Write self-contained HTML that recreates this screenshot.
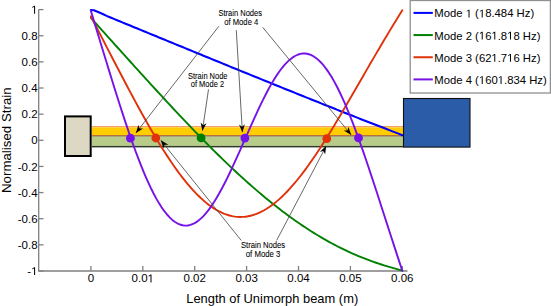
<!DOCTYPE html><html><head><meta charset="utf-8"><style>html,body{margin:0;padding:0;background:#fff;width:551px;height:306px;overflow:hidden}svg{display:block}text{font-family:"Liberation Sans",sans-serif;fill:#000}</style></head><body>
<svg width="551" height="306" viewBox="0 0 551 306">
<defs><marker id="ah" viewBox="0 0 10 10" refX="10" refY="5" markerWidth="8" markerHeight="8" markerUnits="userSpaceOnUse" orient="auto"><path d="M0,1.3 L10,5 L0,8.7 L3,5 Z" fill="#000"/></marker></defs>
<g stroke="#808080" stroke-width="1.3" fill="none">
<path d="M38.7,9.6 V271 H407.5"/>
<path d="M38.7,9.60 H43.5"/>
<path d="M38.7,35.74 H43.5"/>
<path d="M38.7,61.88 H43.5"/>
<path d="M38.7,88.02 H43.5"/>
<path d="M38.7,114.16 H43.5"/>
<path d="M38.7,140.30 H43.5"/>
<path d="M38.7,166.44 H43.5"/>
<path d="M38.7,192.58 H43.5"/>
<path d="M38.7,218.72 H43.5"/>
<path d="M38.7,244.86 H43.5"/>
<path d="M38.7,271.00 H43.5"/>
<path d="M90.90,271 V266"/>
<path d="M142.80,271 V266"/>
<path d="M194.70,271 V266"/>
<path d="M246.60,271 V266"/>
<path d="M298.50,271 V266"/>
<path d="M350.40,271 V266"/>
<path d="M402.30,271 V266"/>
</g>
<g font-size="11.5" text-anchor="end">
<text class="d1" x="37.6" y="13.70"> </text>
<text class="d1" x="37.6" y="39.84">0.8</text>
<text class="d1" x="37.6" y="65.98">0.6</text>
<text class="d1" x="37.6" y="92.12">0.4</text>
<text class="d1" x="37.6" y="118.26">0.2</text>
<text class="d1" x="37.6" y="144.40">0</text>
<text class="d1" x="37.6" y="170.54">-0.2</text>
<text class="d1" x="37.6" y="196.68">-0.4</text>
<text class="d1" x="37.6" y="222.82">-0.6</text>
<text class="d1" x="37.6" y="248.96">-0.8</text>
<text class="d1" x="37.6" y="275.10">- </text>
</g><g font-size="11.5" text-anchor="middle">
<text class="d1" x="90.90" y="282.4">0</text>
<text class="d1" x="142.80" y="282.4">0.0 </text>
<text class="d1" x="194.70" y="282.4">0.02</text>
<text class="d1" x="246.60" y="282.4">0.03</text>
<text class="d1" x="298.50" y="282.4">0.04</text>
<text class="d1" x="350.40" y="282.4">0.05</text>
<text class="d1" x="402.30" y="282.4">0.06</text>
</g>
<text x="272.2" y="302.9" font-size="12.9" text-anchor="middle">Length of Unimorph beam (m)</text>
<text transform="translate(10.5,140.2) rotate(-90)" font-size="13.3" text-anchor="middle">Normalised Strain</text>
<rect x="92" y="126.0" width="311" height="1.4" fill="#f0a060"/>
<rect x="92" y="127.4" width="311" height="7.7" fill="#ffcc00"/>
<rect x="92" y="135.1" width="311" height="0.8" fill="#b0581a"/>
<rect x="92" y="135.9" width="311" height="0.7" fill="#5a3a1a"/>
<rect x="92" y="136.6" width="311" height="9.3" fill="#b8cc8a"/>
<rect x="92" y="145.9" width="311" height="1.5" fill="#2f3a28"/>
<rect x="65" y="116.4" width="25.7" height="39.6" fill="#ddd8c4" stroke="#000" stroke-width="2"/>
<rect x="403.5" y="98.5" width="66.5" height="48.6" fill="#2a5ca8" stroke="#111" stroke-width="1.1"/>
<g fill="none" stroke-width="1.9" stroke-linejoin="round" stroke-linecap="round">
<path d="M90.90,10.10 L93.90,10.30 L101.10,13.30 L106.60,15.90 L109.22,16.97 L111.83,18.05 L114.45,19.13 L117.07,20.20 L119.68,21.28 L122.30,22.35 L124.92,23.43 L127.54,24.50 L130.15,25.58 L132.77,26.66 L135.39,27.73 L138.00,28.81 L140.62,29.88 L143.24,30.96 L145.85,32.03 L148.47,33.11 L151.09,34.18 L153.70,35.26 L156.32,36.33 L158.94,37.41 L161.55,38.48 L164.17,39.56 L166.79,40.63 L169.40,41.71 L172.02,42.78 L174.64,43.86 L177.25,44.93 L179.87,46.00 L182.49,47.08 L185.11,48.15 L187.72,49.23 L190.34,50.30 L192.96,51.37 L195.57,52.44 L198.19,53.52 L200.81,54.59 L203.42,55.66 L206.04,56.73 L208.66,57.80 L211.27,58.87 L213.89,59.94 L216.51,61.01 L219.12,62.08 L221.74,63.15 L224.36,64.22 L226.97,65.29 L229.59,66.36 L232.21,67.43 L234.82,68.50 L237.44,69.56 L240.06,70.63 L242.67,71.70 L245.29,72.76 L247.91,73.83 L250.53,74.89 L253.14,75.96 L255.76,77.02 L258.38,78.08 L260.99,79.15 L263.61,80.21 L266.23,81.27 L268.84,82.33 L271.46,83.39 L274.08,84.45 L276.69,85.51 L279.31,86.57 L281.93,87.62 L284.54,88.68 L287.16,89.73 L289.78,90.79 L292.39,91.84 L295.01,92.90 L297.63,93.95 L300.24,95.00 L302.86,96.05 L305.48,97.10 L308.09,98.15 L310.71,99.20 L313.33,100.25 L315.95,101.29 L318.56,102.34 L321.18,103.38 L323.80,104.42 L326.41,105.47 L329.03,106.51 L331.65,107.55 L334.26,108.59 L336.88,109.62 L339.50,110.66 L342.11,111.70 L344.73,112.73 L347.35,113.76 L349.96,114.80 L352.58,115.83 L355.20,116.86 L357.81,117.88 L360.43,118.91 L363.05,119.94 L365.66,120.96 L368.28,121.98 L370.90,123.01 L373.52,124.03 L376.13,125.04 L378.75,126.06 L381.37,127.08 L383.98,128.09 L386.60,129.10 L389.22,130.12 L391.83,131.12 L394.45,132.13 L397.07,133.14 L399.68,134.14 L402.30,135.15" stroke="#0000ff" stroke-width="2.1"/>
<path d="M90.90,17.94 L93.52,20.85 L96.13,23.75 L98.75,26.66 L101.37,29.57 L103.98,32.47 L106.60,35.38 L109.22,38.28 L111.83,41.19 L114.45,44.09 L117.07,46.99 L119.68,49.90 L122.30,52.80 L124.92,55.70 L127.54,58.59 L130.15,61.49 L132.77,64.38 L135.39,67.27 L138.00,70.16 L140.62,73.04 L143.24,75.92 L145.85,78.79 L148.47,81.67 L151.09,84.53 L153.70,87.39 L156.32,90.25 L158.94,93.09 L161.55,95.94 L164.17,98.77 L166.79,101.60 L169.40,104.42 L172.02,107.23 L174.64,110.03 L177.25,112.82 L179.87,115.60 L182.49,118.37 L185.11,121.13 L187.72,123.88 L190.34,126.62 L192.96,129.34 L195.57,132.06 L198.19,134.75 L200.81,137.44 L203.42,140.11 L206.04,142.76 L208.66,145.40 L211.27,148.02 L213.89,150.63 L216.51,153.21 L219.12,155.78 L221.74,158.34 L224.36,160.87 L226.97,163.38 L229.59,165.88 L232.21,168.35 L234.82,170.80 L237.44,173.24 L240.06,175.65 L242.67,178.03 L245.29,180.40 L247.91,182.74 L250.53,185.06 L253.14,187.35 L255.76,189.62 L258.38,191.86 L260.99,194.08 L263.61,196.28 L266.23,198.44 L268.84,200.58 L271.46,202.70 L274.08,204.78 L276.69,206.84 L279.31,208.87 L281.93,210.88 L284.54,212.85 L287.16,214.79 L289.78,216.71 L292.39,218.60 L295.01,220.45 L297.63,222.28 L300.24,224.08 L302.86,225.84 L305.48,227.58 L308.09,229.28 L310.71,230.96 L313.33,232.60 L315.95,234.21 L318.56,235.79 L321.18,237.34 L323.80,238.86 L326.41,240.35 L329.03,241.80 L331.65,243.23 L334.26,244.62 L336.88,245.98 L339.50,247.31 L342.11,248.61 L344.73,249.88 L347.35,251.12 L349.96,252.33 L352.58,253.51 L355.20,254.65 L357.81,255.77 L360.43,256.86 L363.05,257.92 L365.66,258.94 L368.28,259.94 L370.90,260.91 L373.52,261.86 L376.13,262.77 L378.75,263.66 L381.37,264.52 L383.98,265.36 L386.60,266.17 L389.22,266.95 L391.83,267.71 L394.45,268.44 L397.07,269.15 L399.68,269.84 L402.30,270.50" stroke="#008000" stroke-width="1.9"/>
<path d="M90.90,16.36 L93.52,21.44 L96.13,26.52 L98.75,31.60 L101.37,36.68 L103.98,41.76 L106.60,46.83 L109.22,51.89 L111.83,56.95 L114.45,62.00 L117.07,67.03 L119.68,72.05 L122.30,77.05 L124.92,82.02 L127.54,86.97 L130.15,91.89 L132.77,96.78 L135.39,101.63 L138.00,106.44 L140.62,111.20 L143.24,115.92 L145.85,120.58 L148.47,125.18 L151.09,129.72 L153.70,134.19 L156.32,138.59 L158.94,142.91 L161.55,147.16 L164.17,151.31 L166.79,155.38 L169.40,159.35 L172.02,163.22 L174.64,166.99 L177.25,170.65 L179.87,174.20 L182.49,177.63 L185.11,180.94 L187.72,184.12 L190.34,187.18 L192.96,190.11 L195.57,192.90 L198.19,195.55 L200.81,198.06 L203.42,200.42 L206.04,202.63 L208.66,204.70 L211.27,206.61 L213.89,208.36 L216.51,209.96 L219.12,211.40 L221.74,212.67 L224.36,213.78 L226.97,214.73 L229.59,215.51 L232.21,216.13 L234.82,216.57 L237.44,216.85 L240.06,216.97 L242.67,216.91 L245.29,216.69 L247.91,216.30 L250.53,215.74 L253.14,215.02 L255.76,214.14 L258.38,213.09 L260.99,211.88 L263.61,210.52 L266.23,208.99 L268.84,207.31 L271.46,205.48 L274.08,203.50 L276.69,201.38 L279.31,199.11 L281.93,196.70 L284.54,194.15 L287.16,191.47 L289.78,188.67 L292.39,185.73 L295.01,182.68 L297.63,179.51 L300.24,176.22 L302.86,172.83 L305.48,169.33 L308.09,165.74 L310.71,162.05 L313.33,158.27 L315.95,154.41 L318.56,150.47 L321.18,146.45 L323.80,142.37 L326.41,138.22 L329.03,134.01 L331.65,129.75 L334.26,125.44 L336.88,121.08 L339.50,116.69 L342.11,112.26 L344.73,107.80 L347.35,103.32 L349.96,98.82 L352.58,94.30 L355.20,89.77 L357.81,85.24 L360.43,80.70 L363.05,76.16 L365.66,71.63 L368.28,67.11 L370.90,62.60 L373.52,58.11 L376.13,53.63 L378.75,49.18 L381.37,44.75 L383.98,40.34 L386.60,35.97 L389.22,31.62 L391.83,27.30 L394.45,23.02 L397.07,18.76 L399.68,14.54 L402.30,10.35" stroke="#e0320a" stroke-width="1.9"/>
<path d="M90.90,10.96 L93.52,19.58 L96.13,28.21 L98.75,36.83 L101.37,45.44 L103.98,54.03 L106.60,62.59 L109.22,71.11 L111.83,79.58 L114.45,87.98 L117.07,96.30 L119.68,104.52 L122.30,112.62 L124.92,120.58 L127.54,128.39 L130.15,136.02 L132.77,143.47 L135.39,150.70 L138.00,157.69 L140.62,164.44 L143.24,170.91 L145.85,177.10 L148.47,182.98 L151.09,188.54 L153.70,193.75 L156.32,198.62 L158.94,203.11 L161.55,207.22 L164.17,210.94 L166.79,214.25 L169.40,217.15 L172.02,219.63 L174.64,221.69 L177.25,223.31 L179.87,224.50 L182.49,225.26 L185.11,225.58 L187.72,225.47 L190.34,224.93 L192.96,223.97 L195.57,222.59 L198.19,220.81 L200.81,218.63 L203.42,216.08 L206.04,213.15 L208.66,209.87 L211.27,206.25 L213.89,202.32 L216.51,198.08 L219.12,193.57 L221.74,188.81 L224.36,183.81 L226.97,178.60 L229.59,173.21 L232.21,167.65 L234.82,161.97 L237.44,156.18 L240.06,150.32 L242.67,144.40 L245.29,138.46 L247.91,132.53 L250.53,126.63 L253.14,120.79 L255.76,115.04 L258.38,109.41 L260.99,103.91 L263.61,98.59 L266.23,93.46 L268.84,88.54 L271.46,83.87 L274.08,79.46 L276.69,75.34 L279.31,71.52 L281.93,68.03 L284.54,64.88 L287.16,62.08 L289.78,59.66 L292.39,57.63 L295.01,55.99 L297.63,54.75 L300.24,53.93 L302.86,53.54 L305.48,53.56 L308.09,54.02 L310.71,54.91 L313.33,56.22 L315.95,57.97 L318.56,60.14 L321.18,62.72 L323.80,65.72 L326.41,69.12 L329.03,72.91 L331.65,77.08 L334.26,81.62 L336.88,86.52 L339.50,91.75 L342.11,97.31 L344.73,103.17 L347.35,109.32 L349.96,115.74 L352.58,122.40 L355.20,129.30 L357.81,136.41 L360.43,143.70 L363.05,151.16 L365.66,158.77 L368.28,166.51 L370.90,174.35 L373.52,182.28 L376.13,190.28 L378.75,198.33 L381.37,206.42 L383.98,214.52 L386.60,222.63 L389.22,230.74 L391.83,238.82 L394.45,246.87 L397.07,254.89 L399.68,262.87 L402.30,270.80" stroke="#7612e8" stroke-width="1.9"/>
</g>
<circle cx="130.4" cy="138.2" r="4.4" fill="#7612e8"/>
<circle cx="155.8" cy="138.0" r="4.4" fill="#e0320a"/>
<circle cx="201.1" cy="137.9" r="4.4" fill="#008000"/>
<circle cx="244.9" cy="138.1" r="4.4" fill="#7612e8"/>
<circle cx="326.8" cy="138.7" r="4.4" fill="#e0320a"/>
<circle cx="358.5" cy="137.9" r="4.4" fill="#7612e8"/>
<g stroke="#404040" stroke-width="0.8" fill="none" marker-end="url(#ah)">
<line x1="218.8" y1="26.3" x2="135.9" y2="133.0"/>
<line x1="236.3" y1="30.2" x2="242.4" y2="132.3"/>
<line x1="262.7" y1="27.3" x2="351.2" y2="134.9"/>
<line x1="208.5" y1="89.4" x2="202.4" y2="130.8"/>
<line x1="241.2" y1="240.4" x2="160.8" y2="140.3"/>
<line x1="276.7" y1="240.3" x2="326.2" y2="146.1"/>
</g>
<text x="218.40" y="16.4" font-size="9.5" textLength="43.6" lengthAdjust="spacingAndGlyphs" stroke="#000" stroke-width="0.08">Strain Nodes</text>
<text x="224.20" y="25.35" font-size="9.5" textLength="34.1" lengthAdjust="spacingAndGlyphs" stroke="#000" stroke-width="0.08">of Mode 4</text>
<text x="188.00" y="78.5" font-size="9.5" textLength="39.5" lengthAdjust="spacingAndGlyphs" stroke="#000" stroke-width="0.08">Strain Node</text>
<text x="190.80" y="87.4" font-size="9.5" textLength="33.3" lengthAdjust="spacingAndGlyphs" stroke="#000" stroke-width="0.08">of Mode 2</text>
<text x="240.90" y="248.1" font-size="9.5" textLength="44.3" lengthAdjust="spacingAndGlyphs" stroke="#000" stroke-width="0.08">Strain Nodes</text>
<text x="245.80" y="256.7" font-size="9.5" textLength="34.6" lengthAdjust="spacingAndGlyphs" stroke="#000" stroke-width="0.08">of Mode 3</text>
<rect x="410.2" y="0.5" width="140.2" height="92.5" fill="#fff" stroke="#909090" stroke-width="1.3"/>
<line x1="413.5" y1="12.90" x2="432.8" y2="12.90" stroke="#0000ff" stroke-width="2"/>
<text class="d1" x="434.3" y="17.40" font-size="11.3">Mode   ( 8.484 Hz)</text>
<line x1="413.5" y1="35.07" x2="432.8" y2="35.07" stroke="#008000" stroke-width="2"/>
<text class="d1" x="434.3" y="39.57" font-size="11.3">Mode 2 ( 6 .8 8 Hz)</text>
<line x1="413.5" y1="57.24" x2="432.8" y2="57.24" stroke="#e0320a" stroke-width="2"/>
<text class="d1" x="434.3" y="61.74" font-size="11.3">Mode 3 (62 .7 6 Hz)</text>
<line x1="413.5" y1="79.41" x2="432.8" y2="79.41" stroke="#7612e8" stroke-width="2"/>
<text class="d1" x="434.3" y="83.91" font-size="11.3">Mode 4 ( 60 .834 Hz)</text>
<g fill="#000"><path transform="translate(31.19,13.70) scale(0.005615,-0.005615)" d="M515 0V1237L197 1010V1180L530 1409H696V0Z"/><path transform="translate(31.19,275.10) scale(0.005615,-0.005615)" d="M515 0V1237L197 1010V1180L530 1409H696V0Z"/><path transform="translate(147.59,282.40) scale(0.005615,-0.005615)" d="M515 0V1237L197 1010V1180L530 1409H696V0Z"/><path transform="translate(465.69,17.40) scale(0.005518,-0.005518)" d="M515 0V1237L197 1010V1180L530 1409H696V0Z"/><path transform="translate(478.88,17.40) scale(0.005518,-0.005518)" d="M515 0V1237L197 1010V1180L530 1409H696V0Z"/><path transform="translate(478.88,39.57) scale(0.005518,-0.005518)" d="M515 0V1237L197 1010V1180L530 1409H696V0Z"/><path transform="translate(491.44,39.57) scale(0.005518,-0.005518)" d="M515 0V1237L197 1010V1180L530 1409H696V0Z"/><path transform="translate(507.14,39.57) scale(0.005518,-0.005518)" d="M515 0V1237L197 1010V1180L530 1409H696V0Z"/><path transform="translate(491.44,61.74) scale(0.005518,-0.005518)" d="M515 0V1237L197 1010V1180L530 1409H696V0Z"/><path transform="translate(507.14,61.74) scale(0.005518,-0.005518)" d="M515 0V1237L197 1010V1180L530 1409H696V0Z"/><path transform="translate(478.88,83.91) scale(0.005518,-0.005518)" d="M515 0V1237L197 1010V1180L530 1409H696V0Z"/><path transform="translate(497.72,83.91) scale(0.005518,-0.005518)" d="M515 0V1237L197 1010V1180L530 1409H696V0Z"/></g></svg></body></html>
